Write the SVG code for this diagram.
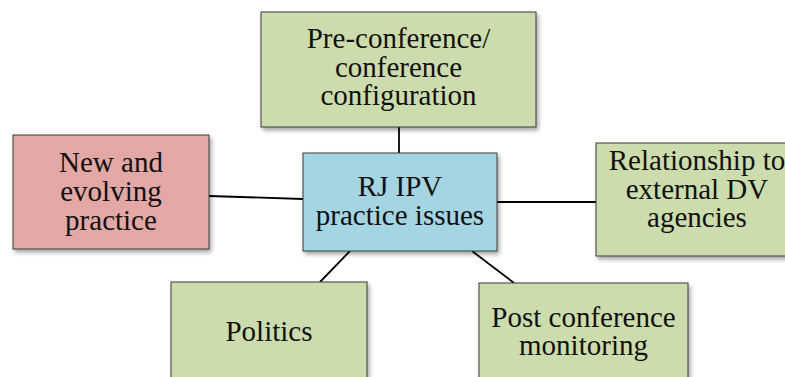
<svg xmlns="http://www.w3.org/2000/svg" width="785" height="377" viewBox="0 0 785 377">
  <style>
    .box { stroke: #3a3a3a; stroke-width: 1; filter: url(#shadow); }
    .green { fill: #CDDCAC; }
    .pink { fill: #E3A7A6; }
    .blue { fill: #A4D5E2; }
    .label { font-family: "Liberation Serif", "Times New Roman", serif; font-size: 29px; fill: #111; text-anchor: middle; }
    .link { stroke: #000; stroke-width: 1.8; fill: none; }
  </style>
  <defs>
    <filter id="shadow" x="-10%" y="-10%" width="130%" height="130%">
      <feDropShadow dx="2" dy="3" stdDeviation="2" flood-color="#000" flood-opacity="0.35"/>
    </filter>
  </defs>
  <rect width="785" height="377" fill="#fff"/>

  <g id="connectors">
    <line class="link" x1="399" y1="127" x2="399" y2="153"/>
    <line class="link" x1="209" y1="196" x2="303" y2="199"/>
    <line class="link" x1="497" y1="202" x2="596" y2="202"/>
    <line class="link" x1="350" y1="251" x2="320" y2="282"/>
    <line class="link" x1="472" y1="251" x2="514" y2="283"/>
  </g>

  <g id="node-preconference">
    <rect class="box green" x="261" y="12" width="275" height="115"/>
    <text class="label" x="398.5" y="48">Pre-conference/</text>
    <text class="label" x="398.5" y="76.5">conference</text>
    <text class="label" x="398.5" y="105">configuration</text>
  </g>

  <g id="node-new-practice">
    <rect class="box pink" x="13" y="135" width="196" height="114"/>
    <text class="label" x="111" y="172">New and</text>
    <text class="label" x="111" y="201">evolving</text>
    <text class="label" x="111" y="230">practice</text>
  </g>

  <g id="node-center">
    <rect class="box blue" x="303" y="153" width="194" height="98"/>
    <text class="label" x="400" y="196">RJ IPV</text>
    <text class="label" x="400" y="225">practice issues</text>
  </g>

  <g id="node-relationship">
    <rect class="box green" x="596" y="143" width="202" height="113"/>
    <text class="label" x="697" y="170">Relationship to</text>
    <text class="label" x="697" y="198.5">external DV</text>
    <text class="label" x="697" y="227">agencies</text>
  </g>

  <g id="node-politics">
    <rect class="box green" x="171" y="282" width="196" height="110"/>
    <text class="label" x="269" y="341">Politics</text>
  </g>

  <g id="node-post-conference">
    <rect class="box green" x="479" y="283" width="209" height="110"/>
    <text class="label" x="583.5" y="327">Post conference</text>
    <text class="label" x="583.5" y="355">monitoring</text>
  </g>
</svg>
